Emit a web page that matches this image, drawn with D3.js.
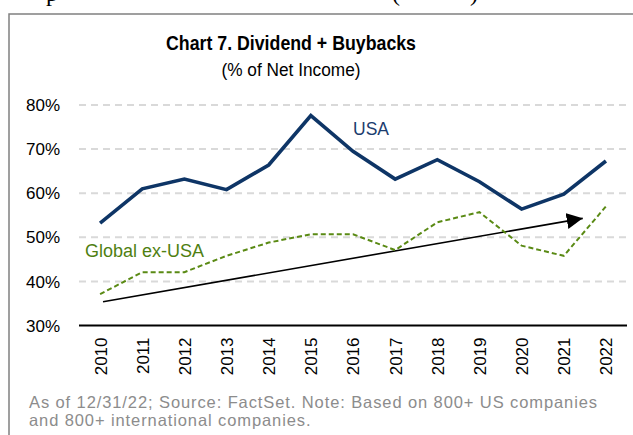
<!DOCTYPE html>
<html>
<head>
<meta charset="utf-8">
<script src="https://cdn.jsdelivr.net/npm/d3@7"></script>
<style>
  html, body { margin: 0; padding: 0; background: #fff; }
  svg { display: block; font-family: 'Liberation Sans', Arial, sans-serif; }
</style>
</head>
<body>
<div id="chart"></div>
<script>
  // data
  var years = ['2010', '2011', '2012', '2013', '2014', '2015', '2016', '2017', '2018', '2019', '2020', '2021', '2022'];
  var usa = [53.2, 61.0, 63.2, 60.8, 66.4, 77.6, 69.5, 63.2, 67.6, 62.6, 56.4, 59.8, 67.3];
  var globalExUsa = [37.1, 42.1, 42.1, 45.8, 48.8, 50.7, 50.7, 47.1, 53.4, 55.7, 48.1, 45.8, 57.0];
  var yTicks = [30, 40, 50, 60, 70, 80];
  // trend arrow: [year index, percent]
  var trendFrom = [0.07, 35.4];
  var trendTo = [11.45, 54.3];

  var width = 633, height = 435;

  var svg = d3.select('#chart').append('svg')
    .attr('width', width)
    .attr('height', height);

  svg.append('defs').append('marker')
    .attr('id', 'arrowHead')
    .attr('viewBox', '0 0 16 16')
    .attr('refX', 16)
    .attr('refY', 8)
    .attr('markerWidth', 16)
    .attr('markerHeight', 16)
    .attr('markerUnits', 'userSpaceOnUse')
    .attr('orient', 'auto')
    .append('path')
    .attr('d', 'M0,0 L16,8 L0,16 Z')
    .attr('fill', '#000');

  // clipped line of the page above the box (cut off in the reference too)
  svg.append('g')
    .attr('font-family', "'Liberation Serif', serif")
    .attr('font-size', 24)
    .attr('fill', '#000')
    .selectAll('text')
    .data([{ t: 'p', x: 46 }, { t: '(', x: 392 }, { t: ')', x: 470 }])
    .enter().append('text')
    .attr('x', function(d) { return d.x; })
    .attr('y', 1)
    .text(function(d) { return d.t; });

  // frame
  svg.append('rect')
    .attr('x', 9)
    .attr('y', 14)
    .attr('width', 700)
    .attr('height', 500)
    .attr('fill', 'none')
    .attr('stroke', '#808080')
    .attr('stroke-width', 1.5);

  var x = d3.scalePoint()
    .domain(years)
    .range([79, 627])
    .padding(0.5);

  var xi = d3.scaleLinear()
    .domain([0, years.length - 1])
    .range([x(years[0]), x(years[years.length - 1])]);

  var y = d3.scaleLinear()
    .domain([30, 80])
    .range([325.5, 105]);

  // title (narrow, tall lettering in the reference)
  svg.append('text')
    .attr('x', 291)
    .attr('y', 50)
    .attr('text-anchor', 'middle')
    .attr('font-size', 21)
    .attr('font-weight', 'bold')
    .attr('fill', '#000')
    .attr('textLength', 250)
    .attr('lengthAdjust', 'spacingAndGlyphs')
    .text('Chart 7. Dividend + Buybacks');

  svg.append('text')
    .attr('x', 291)
    .attr('y', 76)
    .attr('text-anchor', 'middle')
    .attr('font-size', 18)
    .attr('fill', '#000')
    .attr('textLength', 139)
    .attr('lengthAdjust', 'spacingAndGlyphs')
    .text('(% of Net Income)');

  // gridlines
  svg.append('g')
    .selectAll('line')
    .data(yTicks.filter(function(d) { return d > 30; }))
    .enter().append('line')
    .attr('x1', 79)
    .attr('x2', 627)
    .attr('y1', function(d) { return y(d); })
    .attr('y2', function(d) { return y(d); })
    .attr('stroke', '#d9d9d9')
    .attr('stroke-width', 2)
    .attr('stroke-dasharray', '7,5');

  // y axis labels
  var yAxis = d3.axisLeft(y)
    .tickValues(yTicks)
    .tickSize(0)
    .tickPadding(0)
    .tickFormat(function(d) { return d + '%'; });

  svg.append('g')
    .attr('transform', 'translate(60,0)')
    .call(yAxis)
    .call(function(g) { g.select('.domain').remove(); })
    .selectAll('text')
    .attr('font-family', "'Liberation Sans', Arial, sans-serif")
    .attr('font-size', 17)
    .attr('fill', '#000')
    .attr('dy', '0.33em');

  // x axis
  var xAxis = d3.axisBottom(x).tickSize(0).tickPadding(0);

  var xg = svg.append('g')
    .attr('transform', 'translate(0,' + y(30) + ')')
    .call(xAxis);

  xg.select('.domain')
    .attr('d', 'M79,0H627')
    .attr('stroke', '#000')
    .attr('stroke-width', 2.2);

  xg.selectAll('text')
    .attr('font-family', "'Liberation Sans', Arial, sans-serif")
    .attr('font-size', 17)
    .attr('fill', '#000')
    .attr('text-anchor', 'end')
    .attr('transform', 'translate(0,12) rotate(-90)')
    .attr('x', 0)
    .attr('y', 0)
    .attr('dy', '0.35em');

  var line = d3.line()
    .x(function(d, i) { return x(years[i]); })
    .y(function(d) { return y(d); });

  // trend arrow
  svg.append('line')
    .attr('x1', xi(trendFrom[0]))
    .attr('y1', y(trendFrom[1]))
    .attr('x2', xi(trendTo[0]))
    .attr('y2', y(trendTo[1]))
    .attr('stroke', '#000')
    .attr('stroke-width', 1.6)
    .attr('marker-end', 'url(#arrowHead)');

  svg.append('path')
    .datum(globalExUsa)
    .attr('d', line)
    .attr('fill', 'none')
    .attr('stroke', '#5a8a14')
    .attr('stroke-width', 2)
    .attr('stroke-dasharray', '5,3');

  svg.append('path')
    .datum(usa)
    .attr('d', line)
    .attr('fill', 'none')
    .attr('stroke', '#0e3566')
    .attr('stroke-width', 3.6)
    .attr('stroke-linejoin', 'miter');

  // series labels
  svg.append('text')
    .attr('x', 353)
    .attr('y', 135)
    .attr('font-size', 17.5)
    .attr('fill', '#1b3c6e')
    .text('USA');

  svg.append('text')
    .attr('x', 85)
    .attr('y', 257)
    .attr('font-size', 18)
    .attr('fill', '#4f7f12')
    .text('Global ex-USA');

  // footnote
  svg.append('g')
    .attr('font-size', 16.5)
    .attr('fill', '#8c8c8c')
    .attr('letter-spacing', 0.9)
    .selectAll('text')
    .data(['As of 12/31/22; Source: FactSet. Note: Based on 800+ US companies', 'and 800+ international companies.'])
    .enter().append('text')
    .attr('x', 29)
    .attr('y', function(d, i) { return 408 + i * 17.5; })
    .text(function(d) { return d; });
</script>
</body>
</html>
